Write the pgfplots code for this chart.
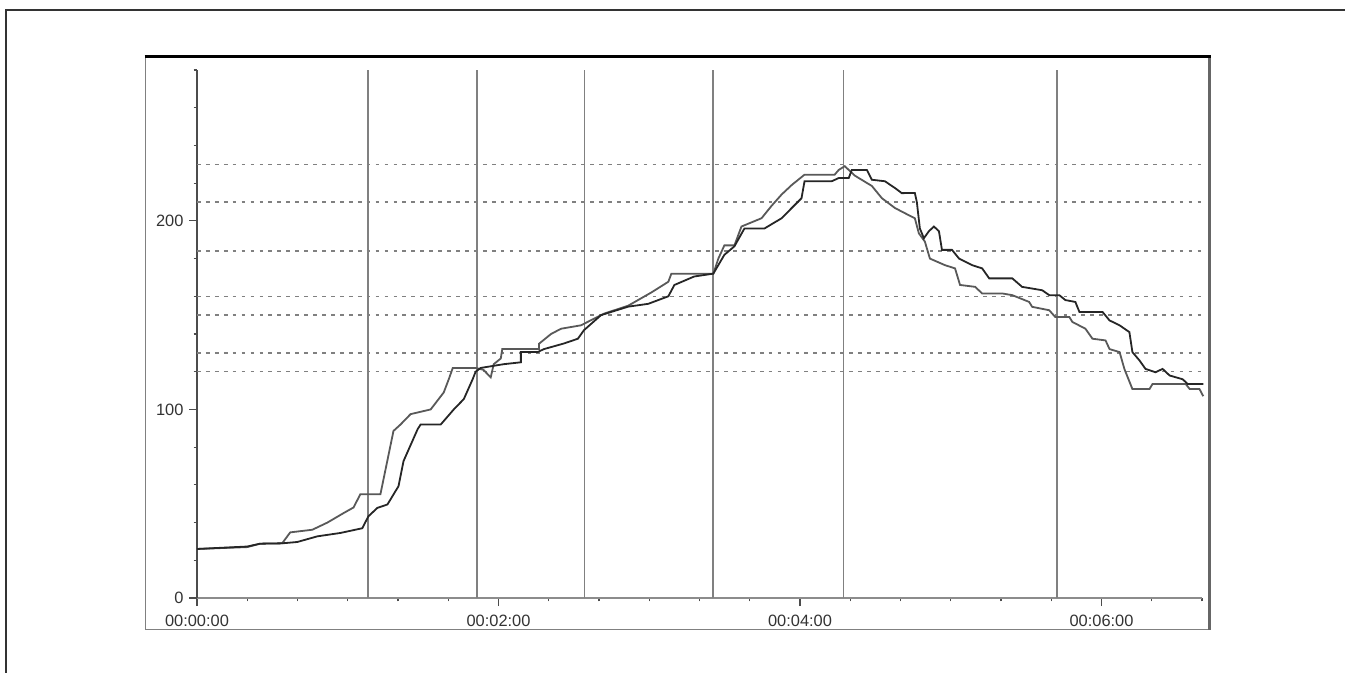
\documentclass[border=0pt]{standalone}
\usepackage{fontspec}
\setmainfont{Liberation Sans}
\usepackage{pgfplots}
\pgfplotsset{compat=1.18}
\begin{document}
\begin{tikzpicture}
\path[use as bounding box] (0,0) rectangle (1008.75pt,-504.75pt);
% outer frame (top and left)
\draw[black!80, line width=1.6pt] (4.7pt,-504.75pt) -- (4.7pt,-7.5pt) -- (1008.75pt,-7.5pt);
% inner chart box
\draw[black!50, line width=1.1pt] (109.1pt,-42.4pt) -- (109.1pt,-472.1pt) -- (907.1pt,-472.1pt);
\draw[black!60, line width=1.9pt] (907.1pt,-42.4pt) -- (907.1pt,-472.6pt);
\draw[black, line width=2.3pt] (108.5pt,-42.4pt) -- (908pt,-42.4pt);
\begin{axis}[
  at={(147.75pt,-448.5pt)}, anchor=south west,
  scale only axis, width=753.75pt, height=396pt,
  xmin=0, xmax=400, ymin=0, ymax=280,
  axis lines*=left,
  clip=false,
  x axis line style={-, black!45, line width=1.5pt},
  y axis line style={-, black!70, line width=1.1pt},
  xtick={0,120,240,360},
  xticklabels={00:00:00,00:02:00,00:04:00,00:06:00},
  minor xtick={20,40,60,80,100,140,160,180,200,220,260,280,300,320,340,380,400},
  ytick={0,100,200},
  yticklabels={0,100,200},
  minor ytick={20,40,60,80,120,140,160,180,220,240,260,280},
  tick align=outside,
  major tick length=6pt,
  minor tick length=2.5pt,
  tick style={black!70, line width=0.9pt},
  ticklabel style={font=\fontsize{12.3}{14}\selectfont, text=black!80},
  yticklabel style={anchor=east, inner sep=0pt, xshift=-4pt},
  xticklabel style={anchor=north, inner sep=0pt, yshift=-6.5pt},
]
% horizontal dashed reference lines
\foreach \h in {230,210,184,160,150,130,120}{
  \edef\temp{\noexpand\addplot[black!50, line width=1.1pt, dash pattern=on 2.8pt off 3.9pt] coordinates {(0,\h) (400,\h)};}
  \temp
}
% vertical reference lines
\foreach \v in {68.2,111.3,154.2,205.4,257.3,342.4}{
  \edef\temp{\noexpand\addplot[black!50, line width=1.35pt] coordinates {(\v,0) (\v,280)};}
  \temp
}
% leading series
\addplot[black!65, line width=1.35pt] coordinates {
(0,26)(20,27)(25.1,28.8)(33.9,29)(37.1,34.8)(45.9,36.2)(51.9,40)(58.3,45)(62.3,48)(65,55)(73,55)(78.2,88.6)(81,92)(85,97.5)(93,100)(98.2,109)(100.2,116)(101.8,122)(110.9,122)(114,121)(116.9,117)(118.1,124)(120.9,127)(121.5,132)(136.1,132)(136.1,134.8)(140.9,140)(144.9,142.8)(152.8,144.6)(162,150.8)(171.6,155)(180.8,162)(187.6,167.7)(188.8,172)(205.5,172)(207.5,180)(209.9,187)(213.9,187)(216.7,197)(224.7,201.4)(228.7,208)(232.7,214)(236.7,219)(241.8,224.5)(253.8,224.5)(255.4,227)(257.8,229)(261.8,224)(268.6,218.5)(272.6,212)(277.8,206.8)(283.3,203)(285.7,201.4)(287.3,193.4)(289.7,189)(291.7,180)(297.7,176.5)(301.7,174.8)(303.7,166)(309.7,165)(312.5,161.5)(320.5,161.5)(324.5,160.6)(331.2,157)(332.4,154.4)(339.2,152.6)(341.6,149)(347.2,149)(348.4,146.4)(353.6,142.8)(356.4,137.5)(361.6,136.6)(363.2,132)(367.2,130.4)(369.1,121.5)(372.3,110.8)(379.1,110.8)(380.3,113.5)(393.5,113.5)(395.1,110.8)(399,110.8)(400.5,107)
};
% lagging series
\addplot[black!85, line width=1.35pt] coordinates {
(0,26)(20,27.3)(25.1,28.8)(33.9,29)(39.9,29.7)(47.9,32.7)(57.1,34.5)(65.8,37)(68.2,43.3)(71.8,47.8)(75.8,49.6)(80.2,59.3)(82.2,72.6)(87.8,89.5)(89,92)(97,92)(102.2,100)(106.2,105.5)(109.7,116)(110.9,120)(112.9,122)(122.1,124)(128.9,125)(128.9,130.5)(135.7,130.5)(138.1,132)(146.1,135)(151.6,137.5)(154,142)(160.8,150)(171.6,154.5)(179.6,156)(187.6,160)(190,166)(197.9,170.5)(205.5,172)(209.9,182)(213.9,186.5)(217.9,196)(225.9,196)(232.7,201.4)(236.7,206.8)(240.6,212)(241.8,221)(252.6,221)(255.4,222.7)(259.4,222.7)(260.6,227)(266.6,227)(268.6,221.8)(273.8,221)(277.8,217.4)(280.5,214.7)(285.7,214.8)(286.5,210)(287.7,196)(289.3,190.8)(291.3,194.5)(293.3,197)(295.3,194.5)(296.5,184.6)(300.5,184.6)(303.3,180)(308.5,176.5)(312.5,174.8)(315.3,169.5)(324.5,169.5)(328.4,165)(336.4,163.2)(339.2,160.6)(343.2,160.6)(345.6,158)(349.6,157)(351.2,151.7)(360.4,151.7)(363.2,147.2)(367.2,144.6)(371.1,141)(372.3,130.4)(375.1,126)(377.5,121.5)(381.5,119.7)(384.3,121.5)(387.1,118)(392.3,116)(394.3,113.5)(400.5,113.5)
};
\end{axis}
\end{tikzpicture}
\end{document}
